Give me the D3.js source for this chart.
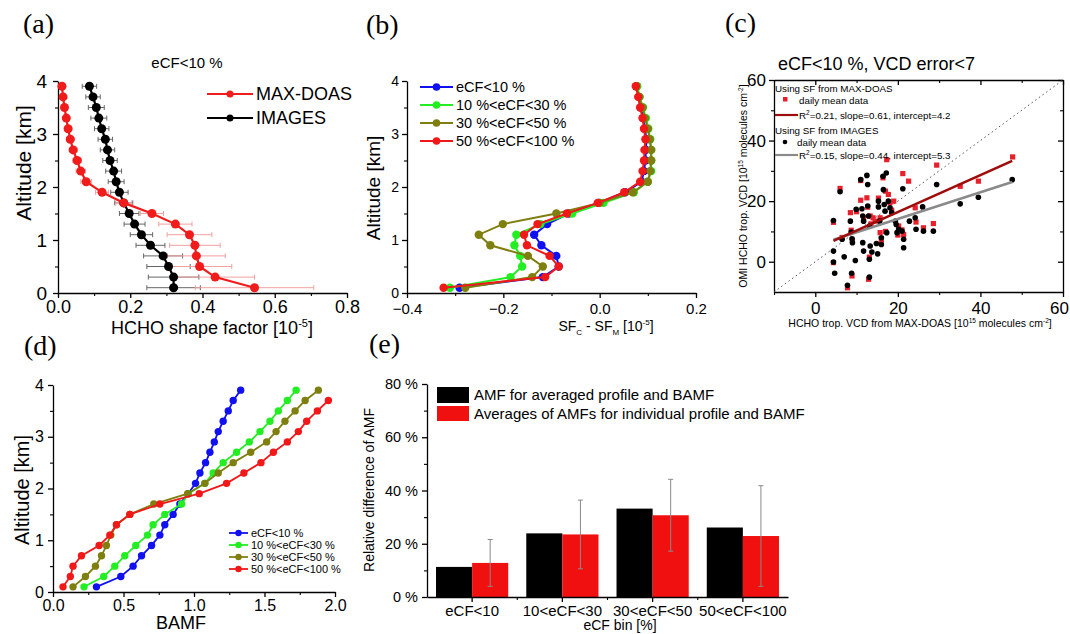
<!DOCTYPE html>
<html>
<head>
<meta charset="utf-8">
<script src="https://cdn.jsdelivr.net/npm/d3@7"></script>
<style>
  body { margin: 0; background: #fff; }
  svg { font-family: Arial, "Liberation Sans", sans-serif; }
</style>
</head>
<body>
<svg id="chart" width="1070" height="634"></svg>
<script>
// ---- data ----
const altitudes = [0.1, 0.3, 0.5, 0.7, 0.9, 1.1, 1.3, 1.5, 1.7, 1.9, 2.1, 2.3, 2.5, 2.7, 2.9, 3.1, 3.3, 3.5, 3.7, 3.9];

// (a) HCHO shape factor
const sfMaxDoas = [0.544, 0.435, 0.392, 0.383, 0.379, 0.364, 0.325, 0.260, 0.182, 0.122, 0.078, 0.063, 0.053, 0.042, 0.034, 0.028, 0.023, 0.018, 0.014, 0.011];
const sfMaxDoasErr = [0.164, 0.109, 0.089, 0.080, 0.070, 0.062, 0.046, 0.032, 0.022, 0.018, 0.015, 0.013, 0.012, 0.011, 0.010, 0.009, 0.008, 0.007, 0.006, 0.005];
const sfImages = [0.320, 0.320, 0.306, 0.291, 0.256, 0.231, 0.212, 0.197, 0.182, 0.170, 0.161, 0.154, 0.144, 0.137, 0.131, 0.121, 0.113, 0.106, 0.097, 0.087];
const sfImagesErr = [0.074, 0.070, 0.060, 0.054, 0.040, 0.031, 0.029, 0.027, 0.025, 0.024, 0.022, 0.022, 0.020, 0.020, 0.020, 0.020, 0.022, 0.022, 0.020, 0.020];

// (b) SF_C - SF_M per cloud bin
const cfBins = ['eCF<10 %', '10 %<eCF<30 %', '30 %<eCF<50 %', '50 %<eCF<100 %'];
const cfColors = ['#1010f0', '#22ee22', '#7f7f10', '#f01818'];
const dsfCf10 = [-0.291, -0.118, -0.085, -0.090, -0.121, -0.136, -0.109, -0.064, -0.002, 0.053, 0.087, 0.092, 0.095, 0.096, 0.097, 0.094, 0.090, 0.086, 0.082, 0.077];
const dsfCf30 = [-0.311, -0.185, -0.161, -0.165, -0.177, -0.173, -0.123, -0.057, 0.008, 0.071, 0.100, 0.107, 0.107, 0.107, 0.105, 0.101, 0.096, 0.090, 0.083, 0.078];
const dsfCf50 = [-0.279, -0.140, -0.118, -0.149, -0.227, -0.251, -0.201, -0.090, 0.000, 0.069, 0.100, 0.105, 0.107, 0.107, 0.104, 0.100, 0.094, 0.089, 0.082, 0.076];
const dsfCf100 = [-0.324, -0.113, -0.085, -0.104, -0.151, -0.157, -0.129, -0.068, -0.004, 0.051, 0.084, 0.089, 0.092, 0.093, 0.095, 0.092, 0.089, 0.084, 0.080, 0.075];

// (c) OMI vs MAX-DOAS VCD, daily means
const vcdMaxDoasSF = [[6.0, 24.2], [4.4, 13.0], [4.4, -0.3], [7.8, -8.6], [8.5, 16.2], [8.9, -4.7], [8.7, 10.4], [9.0, 7.0], [11.0, 26.8], [11.0, 20.3], [12.5, 21.1], [12.9, -5.8], [13.3, 15.1], [14.5, 13.4], [15.7, 14.5], [15.7, 9.6], [16.4, 27.7], [17.3, 33.7], [17.0, 23.3], [17.7, 22.2], [18.1, 19.5], [20.2, 11.8], [21.2, 29.1], [21.4, 9.0], [22.6, 26.6], [24.2, 17.8], [24.4, 13.1], [26.2, 11.2], [28.6, 12.6], [29.4, 31.9], [35.1, 24.9], [39.5, 26.6], [47.8, 34.6], [13.1, 1.5], [16.0, 7.5], [16.0, 6.0], [19.0, 20.0], [15.3, 21.0], [11.7, 14.5], [12.7, 18.0], [10.0, 16.5], [6.5, 8.0], [21.0, 10.5], [20.0, 8.8], [18.5, 17.0], [17.0, 10.0], [13.5, 12.5], [14.0, 14.5]];
const vcdImagesSF = [[4.4, 13.6], [4.4, 3.5], [4.4, -0.1], [4.7, -3.8], [6.0, 23.1], [6.5, 7.4], [7.0, 1.6], [7.8, -7.8], [8.5, 13.4], [8.7, 9.8], [8.9, 7.6], [9.0, 6.3], [8.8, -3.8], [9.7, 0.4], [9.9, 17.3], [11.0, 27.1], [11.3, 17.5], [11.5, 15.1], [11.7, 13.4], [11.5, 6.3], [11.7, 3.5], [12.5, 28.5], [12.7, 25.5], [12.7, 18.4], [12.9, 15.1], [13.1, 11.8], [13.3, 5.2], [13.1, 0.8], [13.1, -5.1], [13.7, 3.2], [14.8, 6.0], [15.1, 2.6], [15.3, 20.0], [15.3, 18.1], [15.6, 13.4], [16.0, 5.7], [16.0, 7.9], [16.4, 28.2], [16.5, 23.8], [16.7, 18.9], [16.9, 16.7], [17.2, 29.3], [17.3, 9.6], [17.7, 20.0], [18.1, 17.8], [18.5, 16.2], [19.4, 13.4], [19.6, 12.3], [19.8, 9.6], [20.2, 10.7], [21.0, 10.1], [21.2, 24.1], [21.4, 7.4], [21.4, 4.6], [22.8, 13.4], [24.2, 14.5], [24.4, 10.7], [26.0, 18.1], [26.2, 10.1], [28.6, 10.1], [29.4, 25.5], [35.1, 19.1], [39.5, 21.3], [47.7, 27.1]];
const fitMaxDoasSF = { slope: 0.61, intercept: 4.2, r2: '0.21' };
const fitImagesSF = { slope: 0.44, intercept: 5.3, r2: '0.15' };

// (d) box air mass factors
const bamfCf10 = [0.308, 0.481, 0.568, 0.628, 0.699, 0.758, 0.793, 0.852, 0.900, 0.959, 1.011, 1.042, 1.082, 1.113, 1.144, 1.172, 1.207, 1.243, 1.278, 1.331];
const bamfCf30 = [0.220, 0.360, 0.438, 0.509, 0.587, 0.670, 0.710, 0.793, 0.912, 0.959, 1.077, 1.136, 1.207, 1.302, 1.392, 1.468, 1.539, 1.598, 1.662, 1.724];
const bamfCf50 = [0.142, 0.230, 0.301, 0.344, 0.379, 0.410, 0.450, 0.545, 0.715, 0.955, 1.077, 1.172, 1.278, 1.402, 1.515, 1.582, 1.645, 1.717, 1.788, 1.882];
const bamfCf100 = [0.071, 0.123, 0.142, 0.202, 0.327, 0.403, 0.450, 0.545, 0.758, 1.037, 1.231, 1.354, 1.475, 1.563, 1.662, 1.740, 1.799, 1.875, 1.953, null];

// (e) relative AMF difference
const eCategories = ['eCF<10', '10<eCF<30', '30<eCF<50', '50<eCF<100'];
const amfAvgProfile = [11.3, 23.9, 33.2, 26.1];
const amfIndividual = [12.8, 23.5, 30.7, 22.9];
const amfIndividualErr = [8.8, 12.9, 13.5, 18.9];

const altTicks = [0, 1, 2, 3, 4];
const altMinor = [0.5, 1.5, 2.5, 3.5];

// ---- helpers ----
const svg = d3.select('#chart');
svg.append('rect').attr('width', 1070).attr('height', 634).attr('fill', '#fff');

function styleAxis(sel, fs) {
	sel.attr('font-size', fs).attr('font-family', null);
	sel.selectAll('path, line').attr('stroke', '#000').attr('stroke-width', 1.3);
	sel.selectAll('text').attr('fill', '#000');
	return sel;
}

function minorAxis(g, axis, transform) {
	g.append('g').attr('transform', transform)
	.call(axis.tickFormat('').tickSizeOuter(0))
	.call((s)=>s.select('.domain').remove())
	.selectAll('line').attr('stroke', '#000').attr('stroke-width', 1.1);
}

function profileAxes(g, x, y, o) {
	const yB = y.range()[0];
	const xL = x.range()[0];
	styleAxis(g.append('g').attr('transform', `translate(0,${yB})`)
		.call(d3.axisBottom(x).tickValues(o.xTicks).tickFormat(o.xFmt).tickSize(5).tickSizeOuter(0).tickPadding(o.padX)), o.fsX);
	minorAxis(g, d3.axisBottom(x).tickValues(o.xMinor).tickSize(3), `translate(0,${yB})`);
	styleAxis(g.append('g').attr('transform', `translate(${xL},0)`)
		.call(d3.axisLeft(y).tickValues(altTicks).tickFormat(d3.format('d')).tickSize(5).tickSizeOuter(0).tickPadding(o.padY)), o.fsY);
	minorAxis(g, d3.axisLeft(y).tickValues(altMinor).tickSize(3), `translate(${xL},0)`);
}

function profileLine(g, x, y, values, color, r, width) {
	const pts = altitudes.map((a, i)=>({ alt: a, v: values[i] })).filter((d)=>d.v != null);
	g.append('path').datum(pts)
	.attr('fill', 'none').attr('stroke', color).attr('stroke-width', width)
	.attr('d', d3.line().x((d)=>x(d.v)).y((d)=>y(d.alt)));
	g.selectAll(null).data(pts).enter().append('circle')
	.attr('cx', (d)=>x(d.v)).attr('cy', (d)=>y(d.alt)).attr('r', r).attr('fill', color);
}

function legendRow(g, x0, x1, yy, color, label, r, fs, width) {
	g.append('line').attr('x1', x0).attr('x2', x1).attr('y1', yy).attr('y2', yy)
	.attr('stroke', color).attr('stroke-width', width);
	g.append('circle').attr('cx', (x0 + x1) / 2).attr('cy', yy).attr('r', r).attr('fill', color);
	g.append('text').attr('x', x1 + 3).attr('y', yy).attr('dy', '0.36em')
	.attr('font-size', fs).text(label);
}

function panelLabel(txt, x, y) {
	svg.append('text').attr('x', x).attr('y', y)
	.attr('font-family', '"Times New Roman", "Liberation Serif", serif')
	.attr('font-size', 28).text(txt);
}

function rotLabel(g, txt, x, y, fs) {
	return g.append('text').attr('transform', `translate(${x},${y}) rotate(-90)`)
	.attr('text-anchor', 'middle').attr('font-size', fs).text(txt);
}

// ---- (a) ----
(function panelA() {
	const g = svg.append('g');
	const x = d3.scaleLinear().domain([0, 0.8]).range([58, 347]);
	const y = d3.scaleLinear().domain([0, 4]).range([293, 81]);

	profileAxes(g, x, y, { xTicks: [0, 0.2, 0.4, 0.6, 0.8], xMinor: [0.1, 0.3, 0.5, 0.7], xFmt: d3.format('.1f'), fsX: 18, fsY: 19, padX: 2, padY: 6 });

	// horizontal error bars
	const errBars = (vals, errs, color)=>{
		altitudes.forEach((a, i)=>{
			const yy = y(a);
			const xa = x(vals[i] - errs[i]);
			const xb = x(vals[i] + errs[i]);
			g.append('line').attr('x1', xa).attr('x2', xb).attr('y1', yy).attr('y2', yy).attr('stroke', color).attr('stroke-width', 1);
			[xa, xb].forEach((xx)=>g.append('line').attr('x1', xx).attr('x2', xx).attr('y1', yy - 2.5).attr('y2', yy + 2.5).attr('stroke', color).attr('stroke-width', 1));
		});
	};
	errBars(sfImages, sfImagesErr, '#666');
	errBars(sfMaxDoas, sfMaxDoasErr, '#f2a0a0');

	profileLine(g, x, y, sfImages, '#000', 4.5, 2.2);
	profileLine(g, x, y, sfMaxDoas, '#f01c1c', 4.5, 2.2);

	legendRow(g, 207, 253, 94, '#f01c1c', 'MAX-DOAS', 3.5, 18, 2.2);
	legendRow(g, 207, 253, 118, '#000', 'IMAGES', 3.5, 18, 2.2);

	g.append('text').attr('x', 187).attr('y', 68).attr('text-anchor', 'middle').attr('font-size', 15).text('eCF<10 %');
	rotLabel(g, 'Altitude [km]', 31, 163, 21);
	const xl = g.append('text').attr('x', 212).attr('y', 334).attr('text-anchor', 'middle').attr('font-size', 18);
	xl.append('tspan').text('HCHO shape factor [10');
	xl.append('tspan').attr('font-size', 11).attr('dy', -7).text('-5');
	xl.append('tspan').attr('dy', 7).text(']');
})();

// ---- (b) ----
(function panelB() {
	const g = svg.append('g');
	const x = d3.scaleLinear().domain([-0.4, 0.2]).range([407, 696]);
	const y = d3.scaleLinear().domain([0, 4]).range([293, 81]);

	profileAxes(g, x, y, { xTicks: [-0.4, -0.2, 0, 0.2], xMinor: [-0.3, -0.1, 0.1], xFmt: d3.format('.1f'), fsX: 15, fsY: 14, padX: 5, padY: 3 });

	[dsfCf10, dsfCf30, dsfCf50, dsfCf100].forEach((vals, i)=>profileLine(g, x, y, vals, cfColors[i], 4.2, 2));
	cfBins.forEach((lab, i)=>legendRow(g, 420, 453, 87 + i * 18, cfColors[i], lab, 3.8, 14.5, 2));

	rotLabel(g, 'Altitude [km]', 380, 188, 19);
	const xl = g.append('text').attr('x', 606).attr('y', 331).attr('text-anchor', 'middle').attr('font-size', 14);
	xl.append('tspan').text('SF');
	xl.append('tspan').attr('font-size', 8).attr('dy', 4).text('C');
	xl.append('tspan').attr('dy', -4).text(' - SF');
	xl.append('tspan').attr('font-size', 8).attr('dy', 4).text('M');
	xl.append('tspan').attr('dy', -4).text('  [10');
	xl.append('tspan').attr('font-size', 8).attr('dy', -6).text('-5');
	xl.append('tspan').attr('dy', 6).text(']');
})();

// ---- (c) ----
(function panelC() {
	const g = svg.append('g');
	const x = d3.scaleLinear().domain([-10, 60]).range([774, 1063]);
	const y = d3.scaleLinear().domain([-10, 60]).range([292, 80]);
	const ticks = [0, 20, 40, 60];
	const minor = [-10, 10, 30, 50];

	const bx = styleAxis(g.append('g').attr('transform', 'translate(0,292)')
		.call(d3.axisBottom(x).tickValues(ticks).tickSize(5).tickSizeOuter(0).tickPadding(5)), 17);
	bx.selectAll('text').filter((d)=>d == 60).attr('dx', -4);
	styleAxis(g.append('g').attr('transform', 'translate(774,0)')
		.call(d3.axisLeft(y).tickValues(ticks).tickSize(5).tickSizeOuter(0).tickPadding(3)), 17);
	styleAxis(g.append('g').attr('transform', 'translate(0,80)')
		.call(d3.axisTop(x).tickValues(ticks).tickFormat('').tickSize(-5).tickSizeOuter(0)), 10);
	styleAxis(g.append('g').attr('transform', 'translate(1063,0)')
		.call(d3.axisRight(y).tickValues(ticks).tickFormat('').tickSize(-5).tickSizeOuter(0)), 10);
	minorAxis(g, d3.axisBottom(x).tickValues(minor).tickSize(3), 'translate(0,292)');
	minorAxis(g, d3.axisLeft(y).tickValues([10, 30, 50]).tickSize(3), 'translate(774,0)');
	minorAxis(g, d3.axisTop(x).tickValues(minor).tickSize(-3), 'translate(0,80)');
	minorAxis(g, d3.axisRight(y).tickValues([10, 30, 50]).tickSize(-3), 'translate(1063,0)');

	// 1:1 line
	g.append('line').attr('x1', x(-10)).attr('y1', y(-10)).attr('x2', x(60)).attr('y2', y(60))
	.attr('stroke', '#555').attr('stroke-width', 1).attr('stroke-dasharray', '1.5,3');

	g.selectAll(null).data(vcdMaxDoasSF).enter().append('rect')
	.attr('x', (d)=>x(d[0]) - 2.6).attr('y', (d)=>y(d[1]) - 2.6).attr('width', 5.2).attr('height', 5.2)
	.attr('fill', '#e8202c');
	g.selectAll(null).data(vcdImagesSF).enter().append('circle')
	.attr('cx', (d)=>x(d[0])).attr('cy', (d)=>y(d[1])).attr('r', 2.8).attr('fill', '#000');

	const xs = d3.extent(vcdImagesSF, (d)=>d[0]);
	const fitLine = (fit, color)=>g.append('line')
		.attr('x1', x(xs[0])).attr('y1', y(fit.slope * xs[0] + fit.intercept))
		.attr('x2', x(xs[1])).attr('y2', y(fit.slope * xs[1] + fit.intercept))
		.attr('stroke', color).attr('stroke-width', 2.6);
	fitLine(fitImagesSF, '#8a8a8a');
	fitLine(fitMaxDoasSF, '#9e0c0c');

	// legend
	const lg = g.append('g').attr('font-size', 9.8);
	const sup = (t, txtA, s, txtB)=>{ t.append('tspan').text(txtA); t.append('tspan').attr('font-size', 6.5).attr('dy', -4).text(s); t.append('tspan').attr('dy', 4).text(txtB); };
	lg.append('text').attr('x', 775).attr('y', 92).text('Using SF from MAX-DOAS');
	lg.append('rect').attr('x', 783).attr('y', 97).attr('width', 4.5).attr('height', 4.5).attr('fill', '#e8202c');
	lg.append('text').attr('x', 799).attr('y', 104).text('daily  mean data');
	lg.append('line').attr('x1', 775).attr('x2', 798).attr('y1', 115).attr('y2', 115).attr('stroke', '#9e0c0c').attr('stroke-width', 2.2);
	sup(lg.append('text').attr('x', 799).attr('y', 119), 'R', '2', `=${fitMaxDoasSF.r2}, slope=${fitMaxDoasSF.slope}, intercept=${fitMaxDoasSF.intercept}`);
	lg.append('text').attr('x', 775).attr('y', 133.5).text('Using SF from IMAGES');
	lg.append('circle').attr('cx', 785).attr('cy', 142).attr('r', 2.3).attr('fill', '#000');
	lg.append('text').attr('x', 797).attr('y', 146).text('daily  mean data');
	lg.append('line').attr('x1', 775).attr('x2', 798).attr('y1', 155).attr('y2', 155).attr('stroke', '#8a8a8a').attr('stroke-width', 2.2);
	sup(lg.append('text').attr('x', 799).attr('y', 159), 'R', '2', `=${fitImagesSF.r2}, slope=${fitImagesSF.slope}, intercept=${fitImagesSF.intercept}`);

	g.append('text').attr('x', 778).attr('y', 70).attr('font-size', 18).text('eCF<10 %, VCD error<7');

	const yl = g.append('text').attr('transform', 'translate(747,186) rotate(-90)').attr('text-anchor', 'middle').attr('font-size', 10.5);
	yl.append('tspan').text('OMI HCHO  trop. VCD [10');
	yl.append('tspan').attr('font-size', 6.5).attr('dy', -4).text('15');
	yl.append('tspan').attr('dy', 4).text('  molecules cm');
	yl.append('tspan').attr('font-size', 6.5).attr('dy', -4).text('-2');
	yl.append('tspan').attr('dy', 4).text(']');
	const xl = g.append('text').attr('x', 920).attr('y', 327).attr('text-anchor', 'middle').attr('font-size', 10.5);
	xl.append('tspan').text('HCHO  trop. VCD from MAX-DOAS [10');
	xl.append('tspan').attr('font-size', 6.5).attr('dy', -4).text('15');
	xl.append('tspan').attr('dy', 4).text('  molecules cm');
	xl.append('tspan').attr('font-size', 6.5).attr('dy', -4).text('-2');
	xl.append('tspan').attr('dy', 4).text(']');
})();

// ---- (d) ----
(function panelD() {
	const g = svg.append('g');
	const x = d3.scaleLinear().domain([0, 2]).range([53, 335]);
	const y = d3.scaleLinear().domain([0, 4]).range([592, 385]);

	profileAxes(g, x, y, { xTicks: [0, 0.5, 1, 1.5, 2], xMinor: [0.25, 0.75, 1.25, 1.75], xFmt: d3.format('.1f'), fsX: 16, fsY: 16, padX: 3, padY: 4 });

	[bamfCf10, bamfCf30, bamfCf50, bamfCf100].forEach((vals, i)=>profileLine(g, x, y, vals, cfColors[i], 3.7, 1.8));
	cfBins.forEach((lab, i)=>legendRow(g, 229, 248, 533 + i * 12, cfColors[i], lab, 3.2, 11, 1.8));

	rotLabel(g, 'Altitude [km]', 29, 490, 20);
	g.append('text').attr('x', 181).attr('y', 629).attr('text-anchor', 'middle').attr('font-size', 18).text('BAMF');
})();

// ---- (e) ----
(function panelE() {
	const g = svg.append('g');
	const x0 = d3.scaleBand().domain(eCategories).range([427, 788]).paddingInner(0.2).paddingOuter(0.1);
	const x1 = d3.scaleBand().domain(['avg', 'ind']).range([0, x0.bandwidth()]);
	const y = d3.scaleLinear().domain([0, 80]).range([597, 384]);

	const rows = eCategories.map((c, i)=>({ cat: c, avg: amfAvgProfile[i], ind: amfIndividual[i], err: amfIndividualErr[i] }));

	g.selectAll(null).data(rows).enter().append('rect')
	.attr('x', (d)=>x0(d.cat) + x1('avg')).attr('y', (d)=>y(d.avg))
	.attr('width', x1.bandwidth()).attr('height', (d)=>y(0) - y(d.avg)).attr('fill', '#000');
	g.selectAll(null).data(rows).enter().append('rect')
	.attr('x', (d)=>x0(d.cat) + x1('ind')).attr('y', (d)=>y(d.ind))
	.attr('width', x1.bandwidth()).attr('height', (d)=>y(0) - y(d.ind)).attr('fill', '#f01010');

	rows.forEach((d)=>{
		const cx = x0(d.cat) + x1('ind') + x1.bandwidth() / 2;
		const ya = y(d.ind + d.err);
		const yb = y(d.ind - d.err);
		g.append('line').attr('x1', cx).attr('x2', cx).attr('y1', ya).attr('y2', yb).attr('stroke', '#8a8a8a').attr('stroke-width', 1);
		[ya, yb].forEach((yy)=>g.append('line').attr('x1', cx - 2.5).attr('x2', cx + 2.5).attr('y1', yy).attr('y2', yy).attr('stroke', '#8a8a8a').attr('stroke-width', 1));
	});

	styleAxis(g.append('g').attr('transform', 'translate(427,0)')
		.call(d3.axisLeft(y).tickValues([0, 20, 40, 60, 80]).tickFormat((d)=>`${d} %`).tickSize(5).tickSizeOuter(0).tickPadding(4)), 14.5);
	minorAxis(g, d3.axisLeft(y).tickValues([10, 30, 50, 70]).tickSize(3), 'translate(427,0)');
	styleAxis(g.append('g').attr('transform', 'translate(0,597)')
		.call(d3.axisBottom(x0).tickSize(5).tickSizeOuter(0).tickPadding(3)), 15);
	g.append('g').attr('transform', 'translate(0,597)').selectAll(null)
	.data(eCategories.slice(1)).enter().append('line')
	.attr('x1', (c)=>x0(c) - x0.step() * 0.1).attr('x2', (c)=>x0(c) - x0.step() * 0.1)
	.attr('y1', 0).attr('y2', 3).attr('stroke', '#000').attr('stroke-width', 1.1);

	// legend
	g.append('rect').attr('x', 437).attr('y', 387).attr('width', 32).attr('height', 16).attr('fill', '#000');
	g.append('rect').attr('x', 437).attr('y', 406).attr('width', 32).attr('height', 15).attr('fill', '#f01010');
	g.append('text').attr('x', 474).attr('y', 395).attr('dy', '0.36em').attr('font-size', 15).text('AMF for averaged profile and BAMF');
	g.append('text').attr('x', 474).attr('y', 413.5).attr('dy', '0.36em').attr('font-size', 15).text('Averages of AMFs for individual profile and BAMF');

	rotLabel(g, 'Relative difference of AMF', 374, 490, 14);
	g.append('text').attr('x', 620).attr('y', 630).attr('text-anchor', 'middle').attr('font-size', 14).text('eCF bin [%]');
})();

panelLabel('(a)', 23, 33);
panelLabel('(b)', 366, 34);
panelLabel('(c)', 725, 32);
panelLabel('(d)', 24, 355);
panelLabel('(e)', 369, 353);
</script>
</body>
</html>
